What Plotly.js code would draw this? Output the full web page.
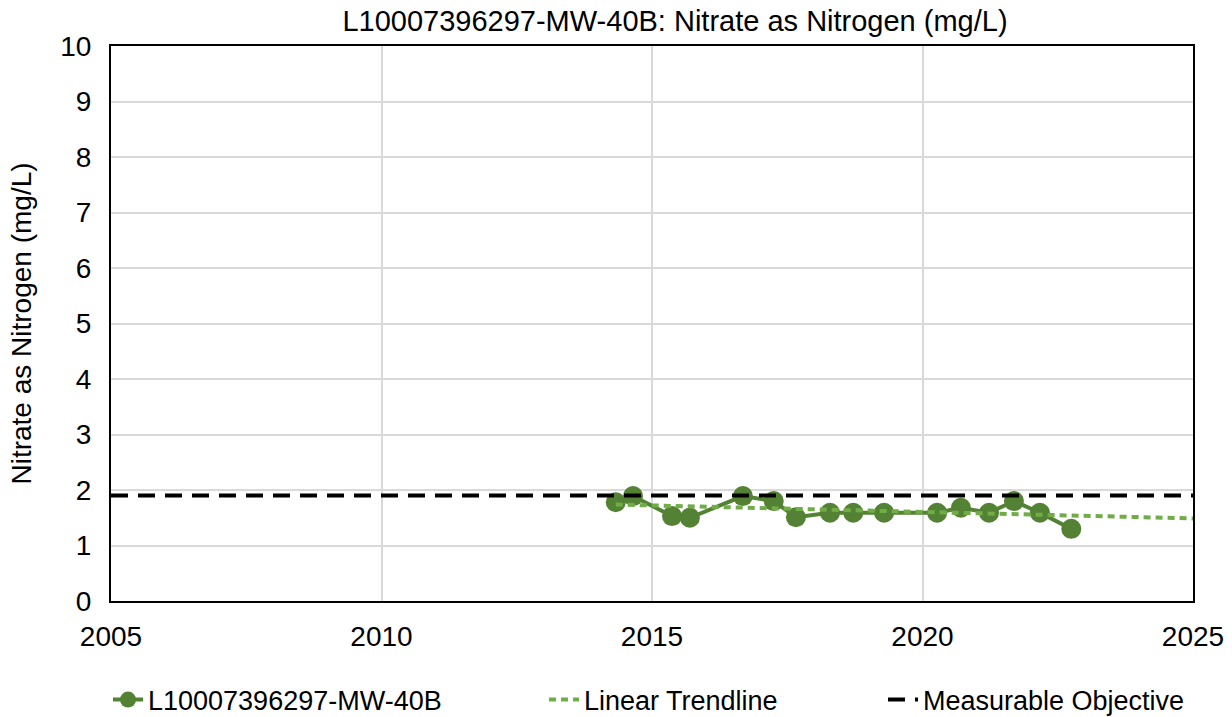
<!DOCTYPE html>
<html><head><meta charset="utf-8">
<script src="https://cdn.plot.ly/plotly-3.0.1.min.js"></script>
<style>html,body{margin:0;padding:0;background:#fff}#chart{width:1232px;height:717px}</style>
</head><body><div id="chart"></div>
<script>
const seriesName = "L10007396297-MW-40B";
const sampleDates = [2014.33, 2014.65, 2015.37, 2015.70, 2016.68, 2017.25, 2017.66, 2018.29, 2018.72, 2019.29, 2020.27, 2020.71, 2021.23, 2021.69, 2022.17, 2022.75];
const nitrateValues = [1.78, 1.89, 1.53, 1.50, 1.89, 1.80, 1.51, 1.59, 1.59, 1.59, 1.59, 1.68, 1.59, 1.80, 1.59, 1.30];
const objectiveValue = 1.9;
const xRange = [2005, 2025];
const yRange = [0, 10];

// least-squares trendline from the data
const n = sampleDates.length;
const mx = sampleDates.reduce((a,b)=>a+b,0)/n;
const my = nitrateValues.reduce((a,b)=>a+b,0)/n;
let sxy=0,sxx=0;
for(let i=0;i<n;i++){sxy+=(sampleDates[i]-mx)*(nitrateValues[i]-my);sxx+=(sampleDates[i]-mx)**2;}
const slope=sxy/sxx, icpt=my-slope*mx;
const trendX=[sampleDates[0], xRange[1]];
const trendY=trendX.map(x=>icpt+slope*x);

const font = "Liberation Sans, Arial, sans-serif";
const traces = [
 {x: sampleDates, y: nitrateValues, mode:"lines+markers", name: seriesName, legend:"legend",
  line:{color:"#548235", width:4}, marker:{color:"#548235", size:20}},
 {x: trendX, y: trendY, mode:"lines", name:"Linear Trendline", legend:"legend2",
  line:{color:"#70ad47", width:4, dash:"7px,5px"}},
 {x: xRange, y:[objectiveValue, objectiveValue], mode:"lines", name:"Measurable Objective", legend:"legend3",
  line:{color:"#000000", width:4, dash:"17px,10px"}}
];
const legFont = {size:27, family:font, color:"#000"};
const legBase = {orientation:"h", yref:"container", y:1-700/717, yanchor:"middle", xanchor:"left", font:legFont, bgcolor:"rgba(0,0,0,0)"};
const layout = {
 width:1232, height:717,
 margin:{l:111, r:39, t:46, b:116},
 paper_bgcolor:"#fff", plot_bgcolor:"#fff",
 font:{family:font, size:28, color:"#000"},
 title:{text:"L10007396297-MW-40B: Nitrate as Nitrogen (mg/L)", font:{size:29}, x:675/1232, xanchor:"center", xref:"container", yref:"container", y:1-21/717, yanchor:"middle"},
 xaxis:{range:xRange, dtick:5, tick0:2005, showgrid:true, gridcolor:"#d9d9d9", gridwidth:2,
  showline:true, linecolor:"#000", linewidth:2, mirror:true, ticks:"", zeroline:false,
  tickfont:{size:28}, ticklabelstandoff:9},
 yaxis:{range:yRange, dtick:1, showgrid:true, gridcolor:"#d9d9d9", gridwidth:2,
  showline:true, linecolor:"#000", linewidth:2, mirror:true, ticks:"", zeroline:false,
  tickfont:{size:28}, ticklabelstandoff:12,
  title:{text:"Nitrate as Nitrogen (mg/L)", font:{size:28}, standoff:20}},
 legend: Object.assign({}, legBase, {x:(108-111)/1082}),
 legend2: Object.assign({}, legBase, {x:(544-111)/1082}),
 legend3: Object.assign({}, legBase, {x:(883-111)/1082}),
 showlegend:true
};
Plotly.newPlot("chart", traces, layout, {displayModeBar:false, staticPlot:true});
</script></body></html>
